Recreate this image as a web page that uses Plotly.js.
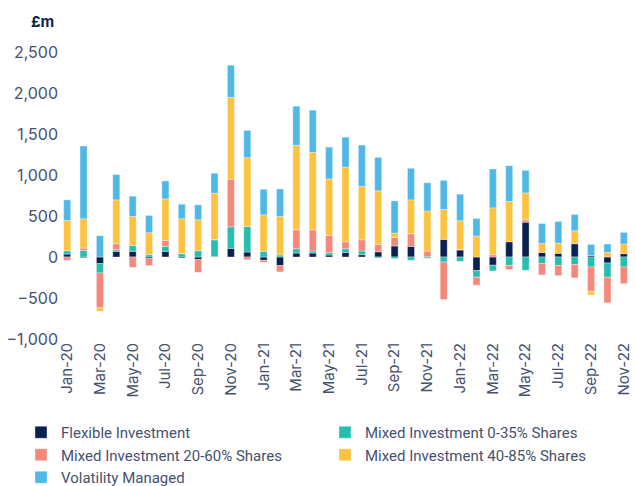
<!DOCTYPE html>
<html>
<head>
<meta charset="utf-8">
<script src="https://cdn.plot.ly/plotly-3.0.1.min.js"></script>
<style>html,body{margin:0;padding:0;background:#fff;}#chart{width:635px;height:486px;}</style>
</head>
<body>
<div id="chart"></div>
<script>
const months = ["Jan-20","Feb-20","Mar-20","Apr-20","May-20","Jun-20","Jul-20","Aug-20","Sep-20","Oct-20","Nov-20","Dec-20",
"Jan-21","Feb-21","Mar-21","Apr-21","May-21","Jun-21","Jul-21","Aug-21","Sep-21","Oct-21","Nov-21","Dec-21",
"Jan-22","Feb-22","Mar-22","Apr-22","May-22","Jun-22","Jul-22","Aug-22","Sep-22","Oct-22","Nov-22"];

const flexible = [36,-10,-81,68,69,-20,69,-12,-32,8,105,61,
-41,-105,48,48,24,56,28,64,134,130,3,215,
85,-166,-101,186,425,55,45,162,18,-73,41];

const mixed035 = [41,81,-114,20,73,28,61,41,77,203,263,311,
68,24,53,25,29,45,45,-12,-20,-40,-15,-61,
-53,-81,-69,-105,-162,-81,-105,-93,-122,-174,-122];

const mixed2060 = [-41,28,-425,74,-126,-85,73,0,-155,0,581,-33,
-24,-77,231,259,210,85,137,90,105,153,69,-458,
8,-97,28,-49,28,-138,-122,-162,-296,-312,-203];

const mixed4085 = [369,357,-41,535,352,268,506,425,377,567,997,839,
446,470,1029,944,689,911,652,653,52,414,489,364,
349,255,571,491,328,109,125,158,-45,57,117];

const volatility = [251,888,259,308,248,211,219,178,182,243,393,333,
312,336,478,515,388,365,503,407,393,385,345,356,
324,215,474,437,276,245,264,198,136,101,142];

const seriesNames = ["Flexible Investment","Mixed Investment 0-35% Shares","Mixed Investment 20-60% Shares","Mixed Investment 40-85% Shares","Volatility Managed"];
const seriesValues = [flexible, mixed035, mixed2060, mixed4085, volatility];
const colors = ["#0a2152","#27bdb0","#f4887a","#fdc23f","#4fb8e7"];

const traces = seriesNames.map((n,i)=>({
  type:"bar", name:n, x:months, y:seriesValues[i],
  marker:{color:colors[i], line:{width:0.6, color:"rgba(255,255,255,0.6)"}},
  hoverinfo:"x+y+name"
}));

const textColor = "#46516f";
const layout = {
  width:635, height:486,
  margin:{l:59, r:3, t:52, b:147, pad:0, autoexpand:false},
  barmode:"relative",
  bargap:0.57,
  paper_bgcolor:"#fff", plot_bgcolor:"#fff",
  font:{family:"Inter, 'Open Sans', sans-serif", size:16, color:textColor},
  xaxis:{type:"category", tickmode:"array",
    tickvals: months.filter((m,i)=>i%2===0),
    ticktext: months.filter((m,i)=>i%2===0),
    tickangle:-90, showgrid:false, zeroline:false, showline:false, ticks:"",
    tickfont:{size:15, color:textColor}, range:[-0.5, months.length-0.5], automargin:false},
  yaxis:{range:[-1000,2500], dtick:500, tickformat:",", showgrid:false, zeroline:false, showline:false,
    ticks:"", tickfont:{size:16, color:textColor}, automargin:false},
  showlegend:true,
  legend:{orientation:"h", x:(21-59)/573, y:-(416-339)/287, xanchor:"left", yanchor:"top",
    entrywidth:259, entrywidthmode:"pixels", traceorder:"normal",
    font:{family:"Roboto, sans-serif", size:15, color:textColor}, bgcolor:"rgba(0,0,0,0)"},
  annotations:[{text:"<b>£m</b>", xref:"paper", yref:"paper", x:(42-59)/573, y:1+30/287,
    xanchor:"center", yanchor:"middle", showarrow:false, font:{size:15, color:"#0d2350"}}]
};

Plotly.newPlot("chart", traces, layout, {displayModeBar:false, staticPlot:true});
</script>
</body>
</html>
